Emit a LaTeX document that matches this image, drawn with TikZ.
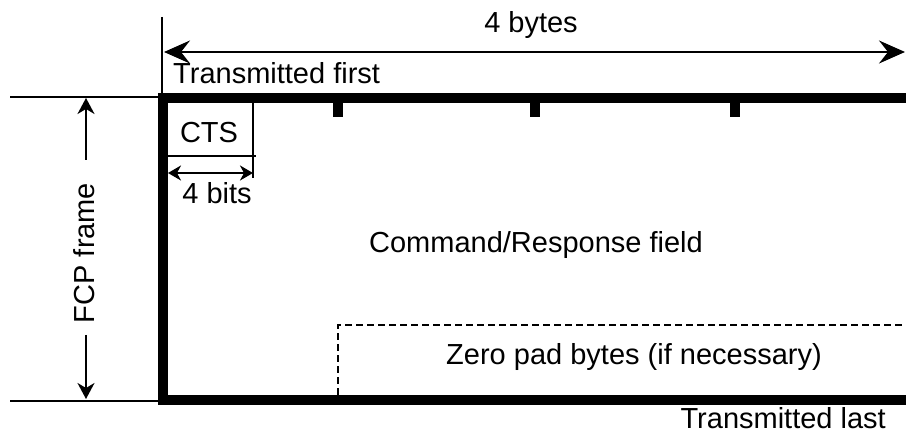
\documentclass[tikz,border=0pt]{standalone}
\usepackage{fontspec}
\setmainfont{Liberation Sans}
\usetikzlibrary{arrows.meta}
\begin{document}
\begin{tikzpicture}[x=1pt,y=-1pt,
  font=\fontsize{29}{34}\selectfont,
  thinline/.style={line width=2pt},
  framebar/.style={line width=10pt, line join=miter},
  bigarrow/.style={line width=2pt,
    {Stealth[length=26pt,width=23pt,inset=9pt]}-{Stealth[length=26pt,width=23pt,inset=9pt]}},
  smallarrow/.style={line width=2pt,
    {Stealth[length=13pt,width=15pt,inset=4pt]}-{Stealth[length=13pt,width=15pt,inset=4pt]}},
  uparrow/.style={line width=2pt, -{Stealth[length=16pt,width=17pt,inset=5pt]}},
  txt/.style={inner sep=0pt, anchor=base}]
\useasboundingbox (0,0) rectangle (906,435);

% frame corners
\coordinate (ftl) at (163,98);
\coordinate (fbl) at (163,400);
\coordinate (ftr) at (906,98);
\coordinate (fbr) at (906,400);
\draw[framebar] (ftr) -- (ftl) -- (fbl) -- (fbr);

% byte boundary ticks
\foreach \x in {338,535,735}
  \fill (\x-5,98) rectangle (\x+5,117);

% 4 bytes width
\coordinate (wl) at (164,52);
\coordinate (wr) at (905,52);
\coordinate (vtop) at (162,17);
\coordinate (vbot) at (162,98);
\draw[thinline] (vtop) -- (vbot);
\draw[bigarrow] (wl) -- (wr);
\node[txt] (bytes) at (531,33) {4 bytes};
\node[txt, anchor=base west] (first) at (173,84) {Transmitted first};

% FCP frame height
\coordinate (hl1) at (10,97);
\coordinate (hr1) at (160,97);
\coordinate (hl2) at (10,401);
\coordinate (hr2) at (160,401);
\draw[thinline] (hl1) -- (hr1);
\draw[thinline] (hl2) -- (hr2);
\node[inner sep=0pt, rotate=90] (fcp) at (84,253) {FCP frame};
\coordinate (fa1) at (86,160);
\coordinate (fa1t) at (86,98);
\coordinate (fa2) at (86,335);
\coordinate (fa2t) at (86,399);
\draw[uparrow] (fa1) -- (fa1t);
\draw[uparrow] (fa2) -- (fa2t);

% CTS field
\coordinate (ctsr1) at (253,103);
\coordinate (ctsr2) at (253,178);
\coordinate (ctsb1) at (168,156);
\coordinate (ctsb2) at (256,156);
\draw[thinline] (ctsr1) -- (ctsr2);
\draw[thinline] (ctsb1) -- (ctsb2);
\node[txt] (cts) at (209,143) {CTS};
\coordinate (bl) at (168,173);
\coordinate (br) at (253,173);
\draw[smallarrow] (bl) -- (br);
\node[txt] (bits) at (217,204) {4 bits};

% body
\node[txt] (cmd) at (536,253) {Command/Response field};

% zero padding region
\coordinate (z1) at (338,395);
\coordinate (z2) at (338,325);
\coordinate (z3) at (906,325);
\draw[thinline, dash pattern=on 7pt off 4pt] (z1) -- (z2) -- (z3);
\node[txt] (pad) at (634,365) {Zero pad bytes (if necessary)};
\node[txt, anchor=base east] (last) at (886,429) {Transmitted last};
\end{tikzpicture}
\end{document}
